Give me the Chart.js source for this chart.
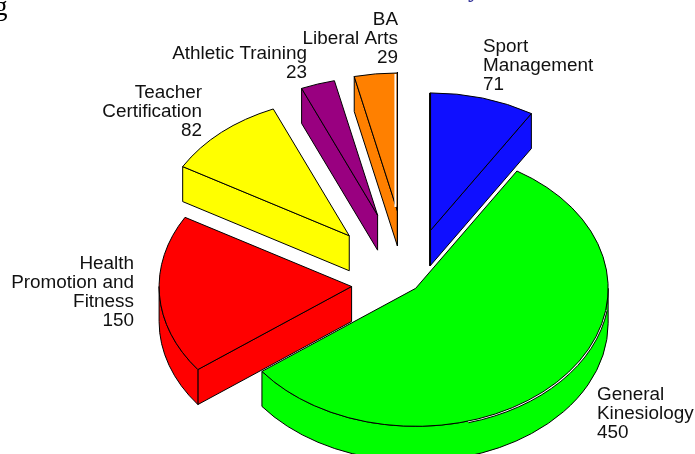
<!DOCTYPE html>
<html>
<head>
<meta charset="utf-8">
<style>html,body{margin:0;padding:0;background:#fff}canvas{display:block}</style>
<script src="https://cdn.jsdelivr.net/npm/chart.js@4/dist/chart.umd.min.js"></script>
</head>
<body>
<canvas id="c" width="695" height="454"></canvas>
<script>
const categories = [
  ['Sport', 'Management'],
  ['General', 'Kinesiology'],
  ['Health', 'Promotion and', 'Fitness'],
  ['Teacher', 'Certification'],
  ['Athletic Training'],
  ['BA', 'Liberal Arts']
];
const values = [71, 450, 150, 82, 23, 29];
const colors = ['#0f0fff', '#00ff00', '#ff0000', '#ffff00', '#990080', '#ff8000'];
const explode = [77, 9, 57.5, 90, 101, 102.5];
const labelAlign = ['left', 'left', 'right', 'right', 'right', 'right'];
const labelX = [483, 597, 134, 202, 307, 398];
const labelTop = [47, 395, 264, 93, 54, 20];

const RADIUS = 192.5, TILT = 138 / 192.5, DEPTH = 35, LINE_H = 19;

const pie3d = {
  id: 'pie3d',
  beforeDatasetDraw(chart, args) {
    const ctx = chart.ctx;
    const arcs = chart.getDatasetMeta(args.index).data;
    ctx.save();
    ctx.lineWidth = 1;
    ctx.strokeStyle = '#000';
    ctx.lineJoin = 'round';
    for (let i = arcs.length - 1; i >= 0; i--) {
      const a = arcs[i];
      const mid = (a.startAngle + a.endAngle) / 2;
      const e = a.options.offset;
      const x = a.x + Math.cos(mid) * e;
      const y = a.y + Math.sin(mid) * e * TILT;
      const r = a.outerRadius, ry = r * TILT;
      const pt = t => [x + Math.cos(t) * r, y + Math.sin(t) * ry];
      const paint = () => { ctx.fillStyle = colors[i]; ctx.fill(); ctx.stroke(); };
      const wall = t => {
        const p = pt(t);
        ctx.beginPath();
        ctx.moveTo(x, y);
        ctx.lineTo(p[0], p[1]);
        ctx.lineTo(p[0], p[1] + DEPTH);
        ctx.lineTo(x, y + DEPTH);
        ctx.closePath();
        paint();
      };
      // radial walls that face the viewer
      if (Math.cos(a.startAngle) < -1e-6) wall(a.startAngle);
      if (Math.cos(a.endAngle) > 1e-6) wall(a.endAngle);
      // outer rim, front half only
      const from = Math.max(a.startAngle, 0);
      const to = Math.min(a.endAngle, Math.PI);
      if (to > from) {
        ctx.beginPath();
        ctx.ellipse(x, y, r, ry, 0, from, to);
        ctx.ellipse(x, y + DEPTH, r, ry, 0, to, from, true);
        ctx.closePath();
        paint();
      }
      // thin gap between face and rim on the lower right of a slice spanning that quadrant
      if (a.startAngle < 0 && a.endAngle > Math.PI / 2) {
        ctx.beginPath();
        ctx.ellipse(x + 1.2, y + 1.4, r, ry, 0, 0.15, 1.3);
        ctx.lineTo(x, y);
        ctx.closePath();
        ctx.fillStyle = '#fff';
        ctx.fill();
        ctx.beginPath();
        ctx.ellipse(x + 1.2, y + 1.4, r, ry, 0, 0.15, 1.3);
        ctx.stroke();
      }
      // top face
      ctx.beginPath();
      ctx.moveTo(x, y);
      ctx.ellipse(x, y, r, ry, 0, a.startAngle, a.endAngle);
      ctx.closePath();
      paint();
      // edge-on wall along the 12 o'clock line
      const top = -Math.PI / 2, full = 3 * Math.PI / 2;
      if (Math.abs(a.startAngle - top) < 1e-6) {
        ctx.beginPath(); ctx.lineWidth = 2;
        ctx.moveTo(x, y - ry); ctx.lineTo(x, y + DEPTH); ctx.stroke();
        ctx.lineWidth = 1;
      }
      if (Math.abs(a.endAngle - full) < 1e-6) {
        ctx.beginPath(); ctx.strokeStyle = '#fff'; ctx.lineWidth = 2;
        ctx.moveTo(x - 2, y - ry + 1); ctx.lineTo(x - 2, y - 4); ctx.stroke();
        ctx.strokeStyle = '#000'; ctx.lineWidth = 1.2;
        ctx.beginPath(); ctx.moveTo(x, y - ry - 1); ctx.lineTo(x, y + DEPTH); ctx.stroke();
        ctx.lineWidth = 1;
      }
    }
    ctx.restore();
    return false;
  },
  afterDatasetsDraw(chart) {
    const ctx = chart.ctx;
    ctx.save();
    ctx.fillStyle = '#111';
    ctx.font = '18.9px "Liberation Sans"';
    ctx.textBaseline = 'middle';
    categories.forEach((lines, i) => {
      ctx.textAlign = labelAlign[i];
      [...lines, String(values[i])].forEach((s, k) => {
        ctx.fillText(s, labelX[i], labelTop[i] + k * LINE_H);
      });
    });
    ctx.textBaseline = 'alphabetic';
    ctx.textAlign = 'left';
    ctx.fillStyle = '#000';
    ctx.font = '27px "Liberation Serif"';
    ctx.fillText('g', -6, 15);
    ctx.fillStyle = '#333399';
    ctx.font = 'bold 24px "Liberation Serif"';
    ctx.fillText('y', 468, -3);
    ctx.restore();
  }
};

new Chart(document.getElementById('c'), {
  type: 'pie',
  data: {
    labels: categories.map(l => l.join(' ')),
    datasets: [{ data: values, backgroundColor: colors, offset: explode, borderWidth: 0 }]
  },
  options: {
    responsive: false,
    animation: false,
    radius: RADIUS,
    layout: { padding: { left: 123, top: 114 } },
    plugins: { legend: { display: false }, tooltip: { enabled: false } }
  },
  plugins: [pie3d]
});
</script>
</body>
</html>
